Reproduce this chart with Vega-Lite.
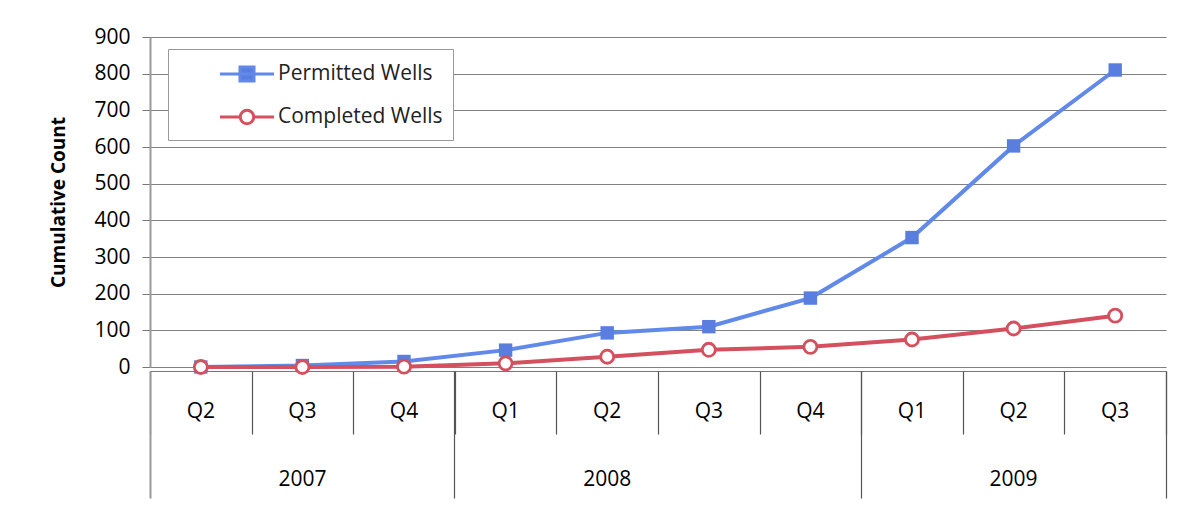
{
  "$schema": "https://vega.github.io/schema/vega-lite/v6.json",
  "width": 1016,
  "height": 330,
  "autosize": {"type": "none"},
  "padding": {"left": 150, "top": 37, "right": 22, "bottom": 141},
  "background": "white",
  "config": {
    "font": "Open Sans",
    "view": {"stroke": null}
  },
  "data": {
    "values": [
      {"period": "2007 Q2", "series": "Permitted Wells", "count": 0},
      {"period": "2007 Q3", "series": "Permitted Wells", "count": 4},
      {"period": "2007 Q4", "series": "Permitted Wells", "count": 15},
      {"period": "2008 Q1", "series": "Permitted Wells", "count": 46},
      {"period": "2008 Q2", "series": "Permitted Wells", "count": 93},
      {"period": "2008 Q3", "series": "Permitted Wells", "count": 110},
      {"period": "2008 Q4", "series": "Permitted Wells", "count": 188},
      {"period": "2009 Q1", "series": "Permitted Wells", "count": 353},
      {"period": "2009 Q2", "series": "Permitted Wells", "count": 603},
      {"period": "2009 Q3", "series": "Permitted Wells", "count": 810},
      {"period": "2007 Q2", "series": "Completed Wells", "count": 0},
      {"period": "2007 Q3", "series": "Completed Wells", "count": 0},
      {"period": "2007 Q4", "series": "Completed Wells", "count": 1},
      {"period": "2008 Q1", "series": "Completed Wells", "count": 10},
      {"period": "2008 Q2", "series": "Completed Wells", "count": 28},
      {"period": "2008 Q3", "series": "Completed Wells", "count": 47},
      {"period": "2008 Q4", "series": "Completed Wells", "count": 55},
      {"period": "2009 Q1", "series": "Completed Wells", "count": 75},
      {"period": "2009 Q2", "series": "Completed Wells", "count": 105},
      {"period": "2009 Q3", "series": "Completed Wells", "count": 140}
    ]
  },
  "encoding": {
    "y": {
      "field": "count", "type": "quantitative",
      "scale": {"domain": [0, 900], "nice": false},
      "axis": {
        "title": "Cumulative Count", "titleFontSize": 19, "titleFontWeight": "bold", "titlePadding": 25,
        "values": [0, 100, 200, 300, 400, 500, 600, 700, 800, 900],
        "labelFontSize": 21, "labelPadding": 12, "tickSize": 8, "tickColor": "#777",
        "domainColor": "#999", "domainWidth": 2,
        "grid": true, "gridColor": "#808080", "gridWidth": 1.2
      }
    }
  },
  "resolve": {"axis": {"x": "independent"}},
  "layer": [
    {
      "mark": {"type": "line", "strokeWidth": 4},
      "encoding": {
        "x": {
          "field": "period", "type": "ordinal",
          "scale": {"type": "band", "paddingInner": 0, "paddingOuter": 0},
          "axis": {
            "orient": "bottom", "title": null, "offset": 4,
            "labelExpr": "isString(datum.value) ? slice(datum.value, 5) : ''", "labelAngle": 0,
            "labelFontSize": 21, "labelPadding": 29,
            "ticks": false, "domainColor": "#777", "domainWidth": 1.2, "grid": false
          }
        },
        "color": {
          "field": "series", "type": "nominal",
          "scale": {"domain": ["Permitted Wells", "Completed Wells"], "range": ["#6189ea", "#d5505e"]},
          "legend": {
            "title": null, "orient": "none", "legendX": 18, "legendY": 12,
            "strokeColor": "#999", "fillColor": "white", "padding": 10,
            "symbolType": "circle", "symbolSize": 729, "symbolStrokeWidth": 3,
            "symbolOffset": 54, "labelOffset": 16, "rowPadding": 14,
            "labelFontSize": 21, "labelColor": "#222", "labelLimit": 400,
            "encode": {
              "symbols": {
                "update": {
                  "shape": {"signal": "datum.value === 'Permitted Wells' ? 'M-2,0H2M-0.52,-0.52H0.52V0.52H-0.52Z' : 'M-2,0H-0.5M0.5,0H2M-0.5,0A0.5,0.5 0 1,1 0.5,0A0.5,0.5 0 1,1 -0.5,0Z'"},
                  "fill": {"signal": "datum.value === 'Permitted Wells' ? '#5a7de0' : 'white'"},
                  "stroke": {"signal": "datum.value === 'Permitted Wells' ? '#6189ea' : '#d5505e'"},
                  "opacity": {"value": 1}
                }
              }
            }
          }
        }
      }
    },
    {
      "transform": [{"filter": "datum.series === 'Permitted Wells'"}],
      "mark": {"type": "point", "shape": "square", "filled": true, "size": 180, "color": "#5a7de0", "opacity": 1},
      "encoding": {
        "x": {
          "field": "period", "type": "ordinal",
          "axis": {
            "orient": "bottom", "title": null, "offset": 4,
            "values": ["2007 Q3", "2008 Q2", "2009 Q2"],
            "labelExpr": "isString(datum.value) ? slice(datum.value, 0, 4) : ''", "labelAngle": 0,
            "labelFontSize": 21, "labelPadding": 97,
            "ticks": false, "domain": false, "grid": false,
            "encode": {"labels": {"update": {"dx": {"signal": "datum.value === '2008 Q2' ? bandwidth('x') / 2 : 0"}}}}
          }
        }
      }
    },
    {
      "transform": [{"filter": "datum.series === 'Completed Wells'"}],
      "mark": {"type": "point", "shape": "circle", "filled": true, "size": 170, "fill": "white", "stroke": "#d5505e", "strokeWidth": 2.8, "opacity": 1},
      "encoding": {
        "x": {
          "field": "period", "type": "ordinal",
          "axis": {
            "orient": "bottom", "title": null, "offset": 4,
            "tickBand": "extent", "labels": false, "domain": false, "grid": false,
            "tickSize": 63, "tickColor": "#555", "tickWidth": 1.2
          }
        }
      }
    },
    {
      "mark": {"type": "point", "opacity": 0},
      "encoding": {
        "x": {
          "field": "period", "type": "ordinal",
          "axis": {
            "orient": "bottom", "title": null, "offset": 4,
            "values": ["2007 Q4", "2008 Q4", "2009 Q3"],
            "bandPosition": 1, "tickExtra": false,
            "labels": false, "domain": false, "grid": false,
            "tickSize": 127, "tickColor": "#555", "tickWidth": 1.2
          }
        }
      }
    },
    {
      "mark": {"type": "point", "opacity": 0},
      "encoding": {
        "x": {
          "field": "period", "type": "ordinal",
          "axis": {
            "orient": "bottom", "title": null, "offset": 4,
            "values": ["2007 Q2"],
            "bandPosition": 0, "tickExtra": false,
            "labels": false, "domain": false, "grid": false,
            "tickSize": 127, "tickColor": "#999", "tickWidth": 2
          }
        }
      }
    }
  ]
}
